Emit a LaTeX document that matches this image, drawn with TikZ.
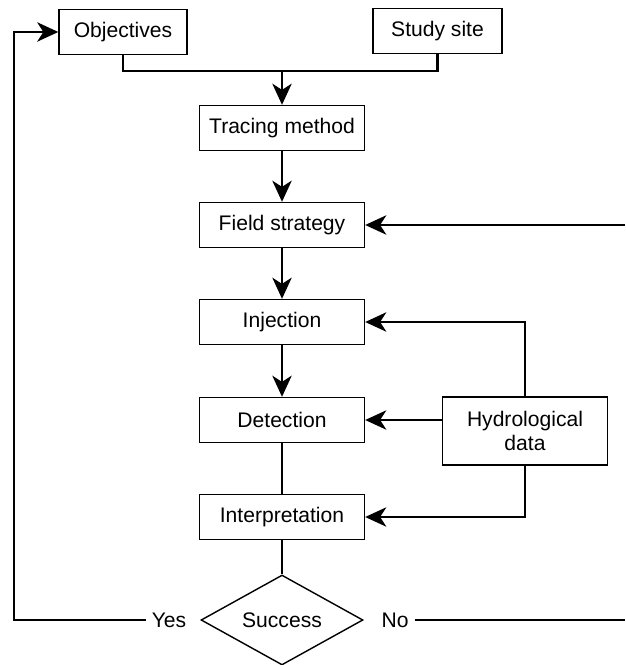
\documentclass[tikz,border=0pt]{standalone}
\usepackage{fontspec}
\setmainfont{Liberation Sans}
\usetikzlibrary{arrows.meta,shapes.geometric}

\begin{document}
\begin{tikzpicture}[x=0.02cm, y=-0.02cm, font=\fontsize{12}{14}\selectfont,
    node_style/.style={rectangle, draw=black, thick, minimum width=3.3cm, minimum height=0.9cm, align=center},
    test_style/.style={diamond, draw=black, thick, minimum width=3.24cm, minimum height=1.8cm, aspect=1.8, inner sep=0pt},
    edge_style/.style={draw=black, line width=1.3pt},
    arrow_style/.style={edge_style, -{Stealth[length=12pt, width=11pt, inset=3.5pt]}}]

    \useasboundingbox (0,0) rectangle (625,665);

    \node[node_style, minimum width=2.56cm] (obj) at (123,32) {Objectives};
    \node[node_style, minimum width=2.58cm] (site) at (437.5,31) {Study site};
    \node[node_style] (trace) at (282,128) {Tracing method};
    \node[node_style] (field) at (282,225) {Field strategy};
    \node[node_style] (inject) at (282,322) {Injection};
    \node[node_style] (detect) at (282,420) {Detection};
    \node[node_style] (interp) at (282,517) {Interpretation};
    \node[node_style, minimum height=1.36cm] (hydro) at (525,431) {Hydrological\\data};
    \node[test_style] (success) at (282,620) {Success};
    \node (yes) at (169,620) {Yes};
    \node (no) at (395,620) {No};

    \coordinate (join) at (282,71);
    \coordinate (back) at (14,620);
    \coordinate (retry_in) at (625,225);
    \coordinate (retry_out) at (625,620);

    % objectives and site merge into the method
    \draw[edge_style] (obj.south) |- (join) -| (site.south);
    \draw[arrow_style] (join) -- (trace.north);

    % main chain
    \draw[arrow_style] (trace) -- (field);
    \draw[arrow_style] (field) -- (inject);
    \draw[arrow_style] (inject) -- (detect);
    \draw[edge_style] (detect) -- (interp);
    \draw[edge_style] (interp) -- (success);

    % hydrological data feeds three steps
    \draw[arrow_style] (hydro.north) |- (inject.east);
    \draw[arrow_style] (hydro.west |- detect.east) -- (detect.east);
    \draw[arrow_style] (hydro.south) |- (interp.east);

    % yes / no loops
    \draw[arrow_style] (yes.west) -- (back) |- (obj.west);
    \draw[edge_style] (no.east) -- (retry_out);
    \draw[arrow_style] (retry_in) -- (field.east);
\end{tikzpicture}
\end{document}
